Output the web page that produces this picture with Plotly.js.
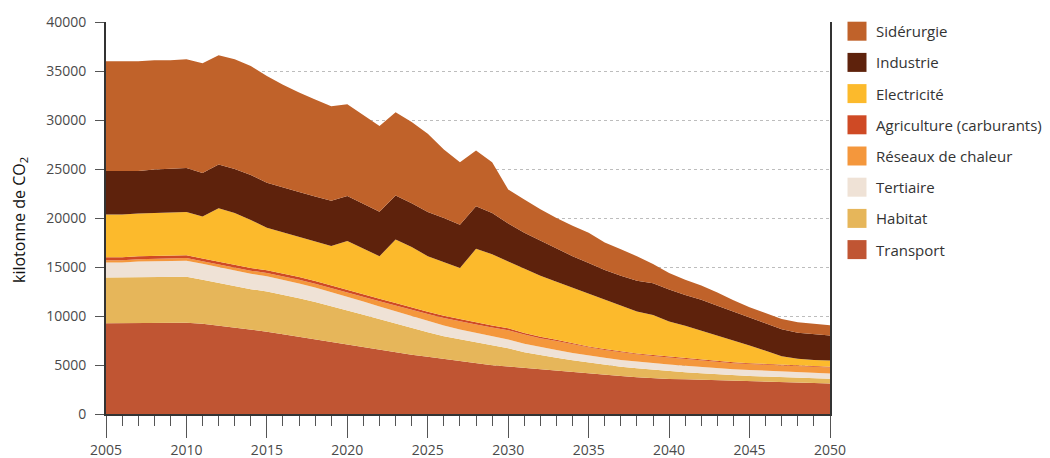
<!DOCTYPE html>
<html>
<head>
<meta charset="utf-8">
<script src="https://cdn.plot.ly/plotly-3.0.1.min.js"></script>
<style>
html,body{margin:0;padding:0;background:#ffffff;}
#chart{width:1050px;height:458px;}
</style>
</head>
<body>
<div id="chart"></div>
<script>
// Years (x categories)
const years = [2005,2006,2007,2008,2009,2010,2011,2012,2013,2014,
               2015,2016,2017,2018,2019,2020,2021,2022,2023,2024,
               2025,2026,2027,2028,2029,2030,2031,2032,2033,2034,
               2035,2036,2037,2038,2039,2040,2041,2042,2043,2044,
               2045,2046,2047,2048,2049,2050];

// Series values (kilotonnes CO2), stacked from bottom to top
const transport   = [9250,9250,9270,9280,9300,9320,9220,9030,8830,8620,
                     8400,8130,7870,7620,7350,7050,6780,6520,6270,6040,
                     5830,5600,5380,5170,4980,4850,4700,4560,4420,4250,
                     4100,3980,3870,3760,3660,3580,3540,3500,3460,3430,
                     3400,3340,3280,3220,3170,3120];
const habitat     = [4690,4690,4690,4700,4700,4690,4480,4340,4200,4120,
                     4100,4050,3950,3820,3680,3500,3350,3150,2950,2700,
                     2500,2330,2230,2130,2000,1850,1600,1430,1330,1240,
                     1160,1060,960,900,850,800,730,650,580,520,
                     480,480,480,480,480,480];
const tertiaire   = [1530,1530,1600,1630,1630,1640,1620,1610,1590,1570,
                     1550,1530,1500,1460,1420,1380,1340,1300,1260,1220,
                     1190,1100,1000,960,930,900,860,820,780,740,
                     700,690,680,680,680,680,660,640,630,620,
                     610,600,580,560,550,540];
const reseaux     = [220,220,230,240,250,260,270,280,300,320,
                     340,360,380,400,420,440,490,540,590,640,
                     680,760,830,880,920,950,940,920,920,880,
                     840,800,770,750,730,710,670,650,640,620,
                     610,610,610,610,610,610];
const agriculture = [300,300,300,300,300,300,290,280,280,270,
                     270,270,270,270,270,270,260,260,250,250,
                     240,230,220,210,200,190,170,150,130,110,
                     100,100,100,90,90,90,90,90,80,80,
                     80,80,80,70,70,70];
const electricite = [4360,4360,4360,4350,4370,4390,4270,5460,5300,4900,
                     4340,4210,4080,4030,4010,5010,4680,4330,6480,6200,
                     5660,5480,5240,7500,7270,6810,6580,6220,5920,5680,
                     5400,5020,4670,4270,4090,3590,3310,2970,2610,2280,
                     1820,1340,870,710,620,630];
const industrie   = [4450,4450,4350,4450,4450,4500,4450,4450,4500,4600,
                     4600,4550,4600,4600,4600,4600,4550,4550,4500,4450,
                     4500,4500,4400,4350,4200,3900,3650,3600,3350,3200,
                     3100,3050,3050,3150,3250,3250,3150,3150,3050,2900,
                     2850,2850,2750,2650,2650,2550];
const siderurgie  = [11200,11200,11200,11150,11100,11100,11200,11150,11200,11100,
                     10900,10500,10150,9900,9650,9350,9050,8750,8500,8300,
                     8000,7000,6400,5700,5200,3450,3400,3200,3150,3100,
                     3100,2800,2700,2500,1950,1700,1550,1450,1350,1150,
                     1050,1000,1050,1050,1050,1050];

// Names and colours, bottom-to-top stack order
const seriesNames  = ["Transport","Habitat","Tertiaire","Réseaux de chaleur",
                      "Agriculture (carburants)","Electricité","Industrie","Sidérurgie"];
const seriesValues = [transport,habitat,tertiaire,reseaux,agriculture,electricite,industrie,siderurgie];
const seriesColors = ["#C05533","#E6B65A","#EFE2D6","#F4973C",
                      "#CF4A25","#FCBA2C","#5E220C","#C0622A"];

const yTitle = "kilotonne de CO<sub>2</sub>";

const traces = seriesNames.map((name, i) => ({
  type: "scatter",
  x: years,
  y: seriesValues[i],
  name: name,
  stackgroup: "one",
  mode: "lines",
  line: {width: 0, color: seriesColors[i]},
  fillcolor: seriesColors[i],
  showlegend: false,
  hoverinfo: "x+y+name"
}));

// Custom legend (top-to-bottom = reverse stack order)
const plotLeft = 106, plotRight = 830, plotTop = 22, plotBottom = 414;
const pw = plotRight - plotLeft, ph = plotBottom - plotTop;
const px2x = p => (p - plotLeft) / pw;
const py2y = p => (plotBottom - p) / ph;

const shapes = [];
const annotations = [];
const legendOrder = seriesNames.map((_, i) => i).reverse();
legendOrder.forEach((idx, k) => {
  const cy = 31.2 + k * 31.2;
  shapes.push({
    type: "rect", xref: "paper", yref: "paper",
    x0: px2x(847.5), x1: px2x(866.5),
    y0: py2y(cy + 9.5), y1: py2y(cy - 9.5),
    fillcolor: seriesColors[idx], line: {width: 0}
  });
  annotations.push({
    xref: "paper", yref: "paper",
    x: px2x(874), y: py2y(cy),
    xanchor: "left", yanchor: "middle",
    text: seriesNames[idx], showarrow: false,
    font: {family: "Open Sans, sans-serif", size: 15, color: "#333333"}
  });
});

annotations.push({
  xref: "paper", yref: "paper",
  x: px2x(20), y: py2y(220),
  xanchor: "center", yanchor: "middle",
  textangle: -90,
  text: yTitle, showarrow: false,
  font: {family: "Open Sans, sans-serif", size: 16, color: "#111111"}
});

const layout = {
  width: 1050, height: 458,
  margin: {l: plotLeft, r: 1050 - plotRight, t: plotTop, b: 458 - plotBottom, pad: 0},
  paper_bgcolor: "#ffffff",
  plot_bgcolor: "#ffffff",
  font: {family: "Open Sans, sans-serif", size: 14, color: "#4a4a4a"},
  xaxis: {
    range: [2005, 2050],
    tick0: 2005, dtick: 5,
    tickformat: "d",
    ticks: "outside", ticklen: 22, tickwidth: 1, tickcolor: "#555555",
    minor: {dtick: 1, ticks: "outside", ticklen: 10, tickwidth: 1, tickcolor: "#555555", showgrid: false},
    showgrid: false, zeroline: false,
    showline: true, linecolor: "#333333", linewidth: 2,
    tickfont: {size: 14, color: "#4a4a4a"}
  },
  yaxis: {
    range: [0, 40000],
    tick0: 0, dtick: 5000,
    tickformat: "d",
    ticks: "outside", ticklen: 9, tickwidth: 1, tickcolor: "#555555",
    ticklabelstandoff: 6,
    showgrid: true, gridcolor: "#bdbdbd", griddash: "dot", gridwidth: 1,
    zeroline: false,
    showline: true, mirror: true, linecolor: "#333333", linewidth: 2,
    tickfont: {size: 14, color: "#4a4a4a"}
  },
  shapes: shapes,
  annotations: annotations,
  showlegend: false
};

Plotly.newPlot("chart", traces, layout, {displayModeBar: false, staticPlot: true});
</script>
</body>
</html>
